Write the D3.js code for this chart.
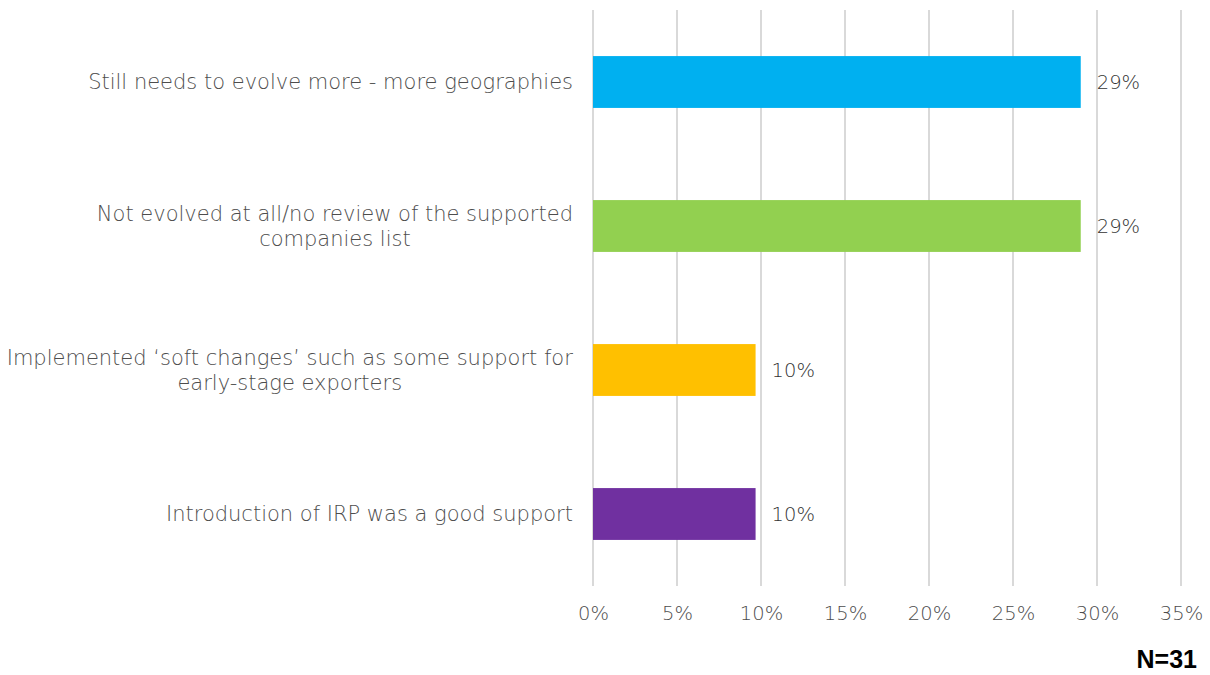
<!DOCTYPE html>
<html>
<head>
<meta charset="utf-8">
<script src="https://cdn.jsdelivr.net/npm/d3@7"></script>
<style>
  html, body { margin: 0; padding: 0; background: #ffffff; }
  svg { display: block; }
  text { font-family: "DejaVu Sans", sans-serif; font-weight: 200; }
</style>
</head>
<body>
<svg id="chart" width="1210" height="675"></svg>
<script>
// Responses (count of respondents) per answer, out of N
const categories = [
  ["Still needs to evolve more - more geographies"],
  ["Not evolved at all/no review of the supported", "companies list"],
  ["Implemented \u2018soft changes\u2019 such as some support for", "early-stage exporters"],
  ["Introduction of IRP was a good support"]
];
const counts = [9, 9, 3, 3];
const sampleSize = 31;
const barColors = ["#00b0f0", "#92d050", "#ffc000", "#7030a0"];
const tickValues = [0, 0.05, 0.10, 0.15, 0.20, 0.25, 0.30, 0.35];

const svg = d3.select("#chart");
const plotLeft = 593, plotRight = 1181, plotTop = 10, plotBottom = 586;

const x = d3.scaleLinear().domain([0, 0.35]).range([plotLeft, plotRight]);
const y = d3.scaleBand().domain(d3.range(categories.length))
  .range([plotTop, plotBottom]).paddingInner(0.64).paddingOuter(0.32);

const pct = d3.format(".0%");
const data = counts.map((c, i) => ({ i, lines: categories[i], value: c / sampleSize, color: barColors[i] }));

// vertical gridlines
svg.append("g").selectAll("line").data(tickValues).join("line")
  .attr("x1", d => x(d)).attr("x2", d => x(d))
  .attr("y1", plotTop).attr("y2", plotBottom)
  .attr("stroke", "#d9d9d9").attr("stroke-width", 2);

// x axis tick labels
const xAxis = d3.axisBottom(x).tickValues(tickValues).tickFormat(pct).tickSize(0).tickPadding(0);
const gx = svg.append("g").attr("transform", `translate(0,${plotBottom})`).call(xAxis);
gx.select(".domain").remove();
gx.selectAll("text")
  .attr("y", 34).attr("dy", 0)
  .attr("fill", "#4d4d4d").attr("font-size", 19.5)
  .style("font-family", "'DejaVu Sans', sans-serif")
  .style("font-weight", 200);

// bars
svg.append("g").selectAll("rect").data(data).join("rect")
  .attr("x", x(0)).attr("y", d => y(d.i))
  .attr("width", d => x(d.value) - x(0))
  .attr("height", y.bandwidth())
  .attr("fill", d => d.color);

// value labels
svg.append("g").selectAll("text").data(data).join("text")
  .attr("x", d => x(d.value) + 16)
  .attr("y", d => y(d.i) + y.bandwidth() / 2)
  .attr("dy", "0.35em")
  .attr("fill", "#333333").attr("font-size", 19.5)
  .text(d => pct(d.value));

// category labels
const lineH = 25;
const cat = svg.append("g").selectAll("text").data(data).join("text")
  .attr("text-anchor", "middle")
  .attr("fill", "#4d4d4d").attr("font-size", 21)
  .attr("y", d => y(d.i) + y.bandwidth() / 2 - (d.lines.length - 1) * lineH / 2);
cat.each(function(d) {
  const t = d3.select(this);
  d.lines.forEach((ln, k) => {
    t.append("tspan").attr("x", 0).attr("dy", k === 0 ? "0.35em" : lineH).text(ln);
  });
});
// right-align each block against the axis while centring its lines
cat.each(function() {
  const bb = this.getBBox();
  const cx = 573 - bb.width / 2;
  d3.select(this).selectAll("tspan").attr("x", cx);
});

// sample size note
svg.append("text")
  .attr("x", 1197).attr("y", 668)
  .attr("text-anchor", "end")
  .attr("fill", "#000000").attr("font-size", 25)
  .style("font-weight", "bold")
  .style("font-family", "'Liberation Sans', Arial, sans-serif")
  .text(`N=${sampleSize}`);
</script>
</body>
</html>
